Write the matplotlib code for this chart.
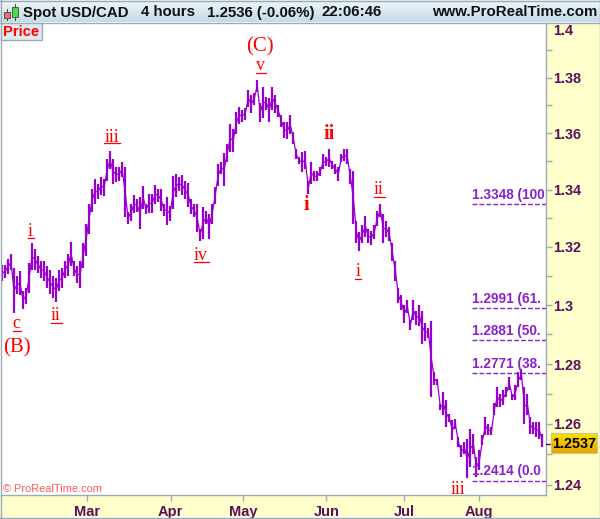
import numpy as np
import matplotlib
matplotlib.use("Agg")
import matplotlib.pyplot as plt
from matplotlib.patches import Rectangle
from matplotlib.ticker import FixedLocator, NullFormatter, FuncFormatter

W, H = 600, 519

# price range per 4h slot
highs = [1.3136, 1.3139, 1.3157, 1.3174, 1.3126, 1.3099, 1.3116, 1.3048, 1.3058, 1.3143,
         1.3215, 1.3194, 1.3167, 1.3153, 1.3153, 1.3133, 1.3119, 1.3099, 1.3092, 1.3119,
         1.3126, 1.3153, 1.3177, 1.3218, 1.3153, 1.3133, 1.3153, 1.3212, 1.3281, 1.3350,
         1.3403, 1.3437, 1.3420, 1.3444, 1.3437, 1.3508, 1.3536, 1.3508, 1.3480, 1.3480,
         1.3497, 1.3480, 1.3322, 1.3350, 1.3382, 1.3368, 1.3375, 1.3413, 1.3350, 1.3385,
         1.3385, 1.3416, 1.3403, 1.3403, 1.3350, 1.3375, 1.3343, 1.3448, 1.3455, 1.3444,
         1.3451, 1.3430, 1.3423, 1.3368, 1.3350, 1.3350, 1.3263, 1.3340, 1.3326, 1.3315,
         1.3350, 1.3409, 1.3490, 1.3497, 1.3529, 1.3561, 1.3632, 1.3614, 1.3678, 1.3696,
         1.3685, 1.3692, 1.3757, 1.3739, 1.3746, 1.3793, 1.3710, 1.3768, 1.3732, 1.3728,
         1.3768, 1.3739, 1.3703, 1.3667, 1.3642, 1.3639, 1.3667, 1.3603, 1.3543, 1.3515,
         1.3533, 1.3536, 1.3430, 1.3497, 1.3465, 1.3465, 1.3480, 1.3525, 1.3515, 1.3543,
         1.3501, 1.3490, 1.3480, 1.3525, 1.3543, 1.3543, 1.3472, 1.3465, 1.3291, 1.3253,
         1.3277, 1.3308, 1.3263, 1.3257, 1.3277, 1.3326, 1.3350, 1.3315, 1.3291, 1.3270,
         1.3212, 1.3153, 1.3058, 1.3034, 1.3000, 1.3017, 1.2949, 1.3017, 1.2980, 1.3000,
         1.2980, 1.2939, 1.2922, 1.2946, 1.2772, 1.2749, 1.2665, 1.2705, 1.2678, 1.2632,
         1.2612, 1.2615, 1.2556, 1.2530, 1.2540, 1.2549, 1.2582, 1.2566, 1.2490, 1.2513,
         1.2562, 1.2622, 1.2599, 1.2589, 1.2671, 1.2722, 1.2698, 1.2712, 1.2722, 1.2755,
         1.2698, 1.2729, 1.2772, 1.2782, 1.2722, 1.2698, 1.2622, 1.2606, 1.2606, 1.2606,
         1.2566]
lows = [1.3082, 1.3092, 1.3106, 1.3119, 1.2973, 1.3038, 1.3034, 1.2987, 1.3004, 1.3041,
        1.3119, 1.3119, 1.3109, 1.3092, 1.3082, 1.3058, 1.3038, 1.3024, 1.3011, 1.3048,
        1.3058, 1.3092, 1.3099, 1.3133, 1.3099, 1.3075, 1.3058, 1.3126, 1.3170, 1.3246,
        1.3322, 1.3350, 1.3368, 1.3382, 1.3378, 1.3430, 1.3472, 1.3420, 1.3427, 1.3430,
        1.3444, 1.3305, 1.3281, 1.3291, 1.3319, 1.3322, 1.3263, 1.3333, 1.3315, 1.3319,
        1.3319, 1.3350, 1.3357, 1.3326, 1.3308, 1.3277, 1.3291, 1.3333, 1.3375, 1.3396,
        1.3382, 1.3368, 1.3340, 1.3315, 1.3305, 1.3253, 1.3222, 1.3229, 1.3281, 1.3229,
        1.3281, 1.3350, 1.3413, 1.3455, 1.3413, 1.3497, 1.3533, 1.3533, 1.3596, 1.3632,
        1.3642, 1.3649, 1.3696, 1.3674, 1.3703, 1.3750, 1.3639, 1.3656, 1.3685, 1.3642,
        1.3685, 1.3674, 1.3660, 1.3624, 1.3585, 1.3578, 1.3596, 1.3561, 1.3508, 1.3490,
        1.3462, 1.3472, 1.3385, 1.3420, 1.3430, 1.3430, 1.3448, 1.3472, 1.3483, 1.3480,
        1.3472, 1.3455, 1.3430, 1.3497, 1.3501, 1.3490, 1.3420, 1.3281, 1.3212, 1.3187,
        1.3212, 1.3236, 1.3212, 1.3205, 1.3229, 1.3274, 1.3305, 1.3212, 1.3236, 1.3219,
        1.3150, 1.3082, 1.3007, 1.2983, 1.2939, 1.2973, 1.2916, 1.2949, 1.2933, 1.2929,
        1.2866, 1.2879, 1.2889, 1.2688, 1.2729, 1.2729, 1.2645, 1.2629, 1.2589, 1.2606,
        1.2546, 1.2582, 1.2523, 1.2490, 1.2500, 1.2422, 1.2457, 1.2500, 1.2425, 1.2447,
        1.2530, 1.2562, 1.2562, 1.2562, 1.2629, 1.2655, 1.2655, 1.2662, 1.2688, 1.2712,
        1.2678, 1.2681, 1.2722, 1.2745, 1.2599, 1.2629, 1.2566, 1.2566, 1.2556, 1.2549,
        1.2523]

months = ["Mar", "Apr", "May", "Jun", "Jul", "Aug"]
month_slots = [28.2, 56.2, 80.2, 108.0, 134.0, 158.7]
fib_levels = [1.3348, 1.2991, 1.2881, 1.2771, 1.2414]
# the chart cuts these off at the price axis
fib_labels = ["1.3348 (100", "1.2991 (61.", "1.2881 (50.", "1.2771 (38.", "1.2414 (0.0"]
major_ticks = [1.24, 1.26, 1.28, 1.30, 1.32, 1.34, 1.36, 1.38]
minor_ticks = [1.25, 1.27, 1.29, 1.31, 1.33, 1.35, 1.37, 1.39]
last_price = 1.2537

PURPLE = "#9900cc"
FIB = "#8a22cc"
DARK = "#5c0f5c"
EDGE = "#9aabb8"
CREAM = "#ffffcc"
RED = "#ff0000"

plt.rcParams["font.family"] = ["Liberation Sans", "DejaVu Sans"]


def fx(x):
    return x / W


def fy(y):
    return 1 - y / H


def gradient(x0, y0, x1, y1, top, bottom):
    # small axes holding a vertical colour ramp
    a = fig.add_axes([fx(x0), fy(y1), (x1 - x0) / W, (y1 - y0) / H])
    c0 = np.array(matplotlib.colors.to_rgb(top))
    c1 = np.array(matplotlib.colors.to_rgb(bottom))
    ramp = np.linspace(0, 1, 24)[:, None, None] * (c1 - c0) + c0
    a.imshow(ramp, aspect="auto", interpolation="bilinear")
    a.axis("off")
    return a


def label(x, y, s, size=13, under=None, weight="normal"):
    fig.text(fx(x), fy(y), s, color=RED, family="Liberation Serif", fontsize=size,
             weight=weight, ha="center", va="center", zorder=6)
    if under:
        fig.add_artist(plt.Line2D([fx(under[0]), fx(under[1])], [fy(under[2])] * 2,
                                  color=RED, lw=0.9, zorder=6))


fig = plt.figure(figsize=(W / 100, H / 100), dpi=100, facecolor="white")

# bands around the plot, behind everything
fig.add_artist(Rectangle((fx(545.5), fy(517)), 54.5 / W, 494 / H, transform=fig.transFigure,
                         fc=CREAM, ec="none", zorder=-2))
fig.add_artist(Rectangle((0, fy(517)), 546 / W, 22 / H, transform=fig.transFigure,
                         fc=CREAM, ec="none", zorder=-2))

ax = fig.add_axes([fx(1), fy(495), 544.5 / W, 472 / H])
ax.set_yscale("log")
ax.set_xlim(-1 / 3, 181)
ax.set_ylim(1.2367, 1.4)
ax.set_facecolor("white")

slots = np.arange(len(highs))
mids = (np.array(highs) + np.array(lows)) / 2
ax.vlines(slots, lows, highs, color=PURPLE, lw=1.6, zorder=3)
ax.plot(slots, mids, color=PURPLE, lw=0.9, zorder=3)

# fibonacci levels
for lev, txt in zip(fib_levels, fib_labels):
    ax.plot([156.4, 181], [lev, lev], color=FIB, lw=1, dashes=(3.5, 1.5), zorder=4)
    ax.annotate(txt, (156.4, lev), xytext=(0, 1.5), textcoords="offset points",
                color=FIB, fontsize=9.8, weight="bold", va="bottom", ha="left",
                annotation_clip=False, clip_on=True, zorder=5)

ax.yaxis.tick_right()
ax.yaxis.set_major_locator(FixedLocator(major_ticks))
ax.yaxis.set_minor_locator(FixedLocator(minor_ticks))
ax.yaxis.set_major_formatter(FuncFormatter(lambda v, p: f"{v:.2f}".rstrip("0")))
ax.yaxis.set_minor_formatter(NullFormatter())
ax.tick_params(axis="y", which="major", length=4, width=1, color=EDGE, labelcolor=DARK,
               labelsize=10.4, pad=1.8)
ax.tick_params(axis="y", which="minor", length=4, width=1, color=EDGE)
for t in ax.get_yticklabels():
    t.set_fontweight("bold")
ax.set_xticks(month_slots)
ax.set_xticklabels(months, fontsize=10.5, fontweight="bold", color=DARK)
ax.tick_params(axis="x", length=4, width=1, color=EDGE, pad=3.5)
ax.spines["top"].set_visible(False)
ax.spines["left"].set_visible(False)
for side in ("right", "bottom"):
    ax.spines[side].set_color(EDGE)
    ax.spines[side].set_linewidth(1)

for t in ax.texts:
    t.set_clip_path(ax.patch)

# 1.4 sits at the very top so the label is pushed down
fig.text(fx(553), fy(31), "1.4", color=DARK, fontsize=10.4, weight="bold", va="center")

# header
gradient(0, 0, 600, 22, "#eef7fb", "#c5dbe6")
fig.add_artist(plt.Line2D([0, 1], [fy(22.5)] * 2, color=EDGE, lw=1))
fig.add_artist(plt.Line2D([0, 1], [fy(0.5)] * 2, color=EDGE, lw=1))
fig.add_artist(plt.Line2D([fx(0.5)] * 2, [fy(517), 1], color=EDGE, lw=1))
fig.add_artist(plt.Line2D([fx(599.5)] * 2, [fy(517), 1], color=EDGE, lw=1))
fig.add_artist(plt.Line2D([0, 1], [fy(517.5)] * 2, color=EDGE, lw=1))

# candle icon
fig.add_artist(plt.Line2D([fx(6.5)] * 2, [fy(9), fy(20)], color="#444444", lw=0.7, zorder=5))
fig.add_artist(plt.Line2D([fx(14.5)] * 2, [fy(4), fy(20)], color="#444444", lw=0.7, zorder=5))
fig.add_artist(Rectangle((fx(3.5), fy(17.5)), 6 / W, 6 / H, transform=fig.transFigure,
                         fc="#f07070", ec="#444444", lw=0.6, zorder=6))
fig.add_artist(Rectangle((fx(11.5), fy(16.5)), 6 / W, 9 / H, transform=fig.transFigure,
                         fc="#44e044", ec="#444444", lw=0.6, zorder=6))

for x, s in [(23, "Spot USD/CAD"), (141, "4 hours"), (207, "1.2536 (-0.06%)"), (322, "22:06:46")]:
    fig.text(fx(x), fy(12.5), s, color="#111111", fontsize=10.8, weight="bold", va="center", zorder=7)
fig.text(fx(597), fy(12.5), "www.ProRealTime.com", color="#111111", fontsize=10.8, weight="bold",
         va="center", ha="right", zorder=7)

# price tab
fig.add_artist(Rectangle((fx(0.5), fy(39.5)), 41 / W, 17 / H, transform=fig.transFigure,
                         fc="#dfe8ee", ec=EDGE, lw=1, zorder=6))
fig.text(fx(3), fy(31.5), "Price", color=RED, fontsize=10.6, weight="bold", va="center", zorder=7)

fig.text(fx(3), fy(489), "\u00a9 ProRealTime.com", color="#ff5a5a", fontsize=7.9, va="center", zorder=6)

# last price badge
gradient(551, 433, 597, 453, "#ffe100", "#e8a400")
fig.add_artist(Rectangle((fx(551), fy(453)), 46 / W, 20 / H, transform=fig.transFigure,
                         fc="none", ec="#c8c8a0", lw=0.8, zorder=7))
fig.text(fx(574), fy(443.5), f"{last_price:.4f}", color="black", fontsize=10.4, weight="bold",
         ha="center", va="center", zorder=8)
fig.add_artist(plt.Line2D([fx(546), fx(551)], [fy(443.5)] * 2, color=DARK, lw=1, zorder=5))

# elliott wave counts
label(260, 47, "(C)", 15)
label(260, 66, "v", 13, (256, 266, 73))
label(112, 137, "iii", 13, (104, 120, 143))
label(30, 231, "i", 13, (28, 34, 238))
label(16, 323, "c", 13, (13, 21, 331))
label(17, 348, "(B)", 15)
label(56, 316, "ii", 13, (51, 62, 323))
label(201, 255, "iv", 13, (194, 209, 262))
label(329, 134, "ii", 14.5, weight="bold")
label(306, 205, "i", 14.5, weight="bold")
label(379, 190, "ii", 13, (374, 385, 197))
label(358, 272, "i", 13, (355, 361, 279))
label(458, 489, "iii", 13)

fig.savefig("out.png", dpi=100)
